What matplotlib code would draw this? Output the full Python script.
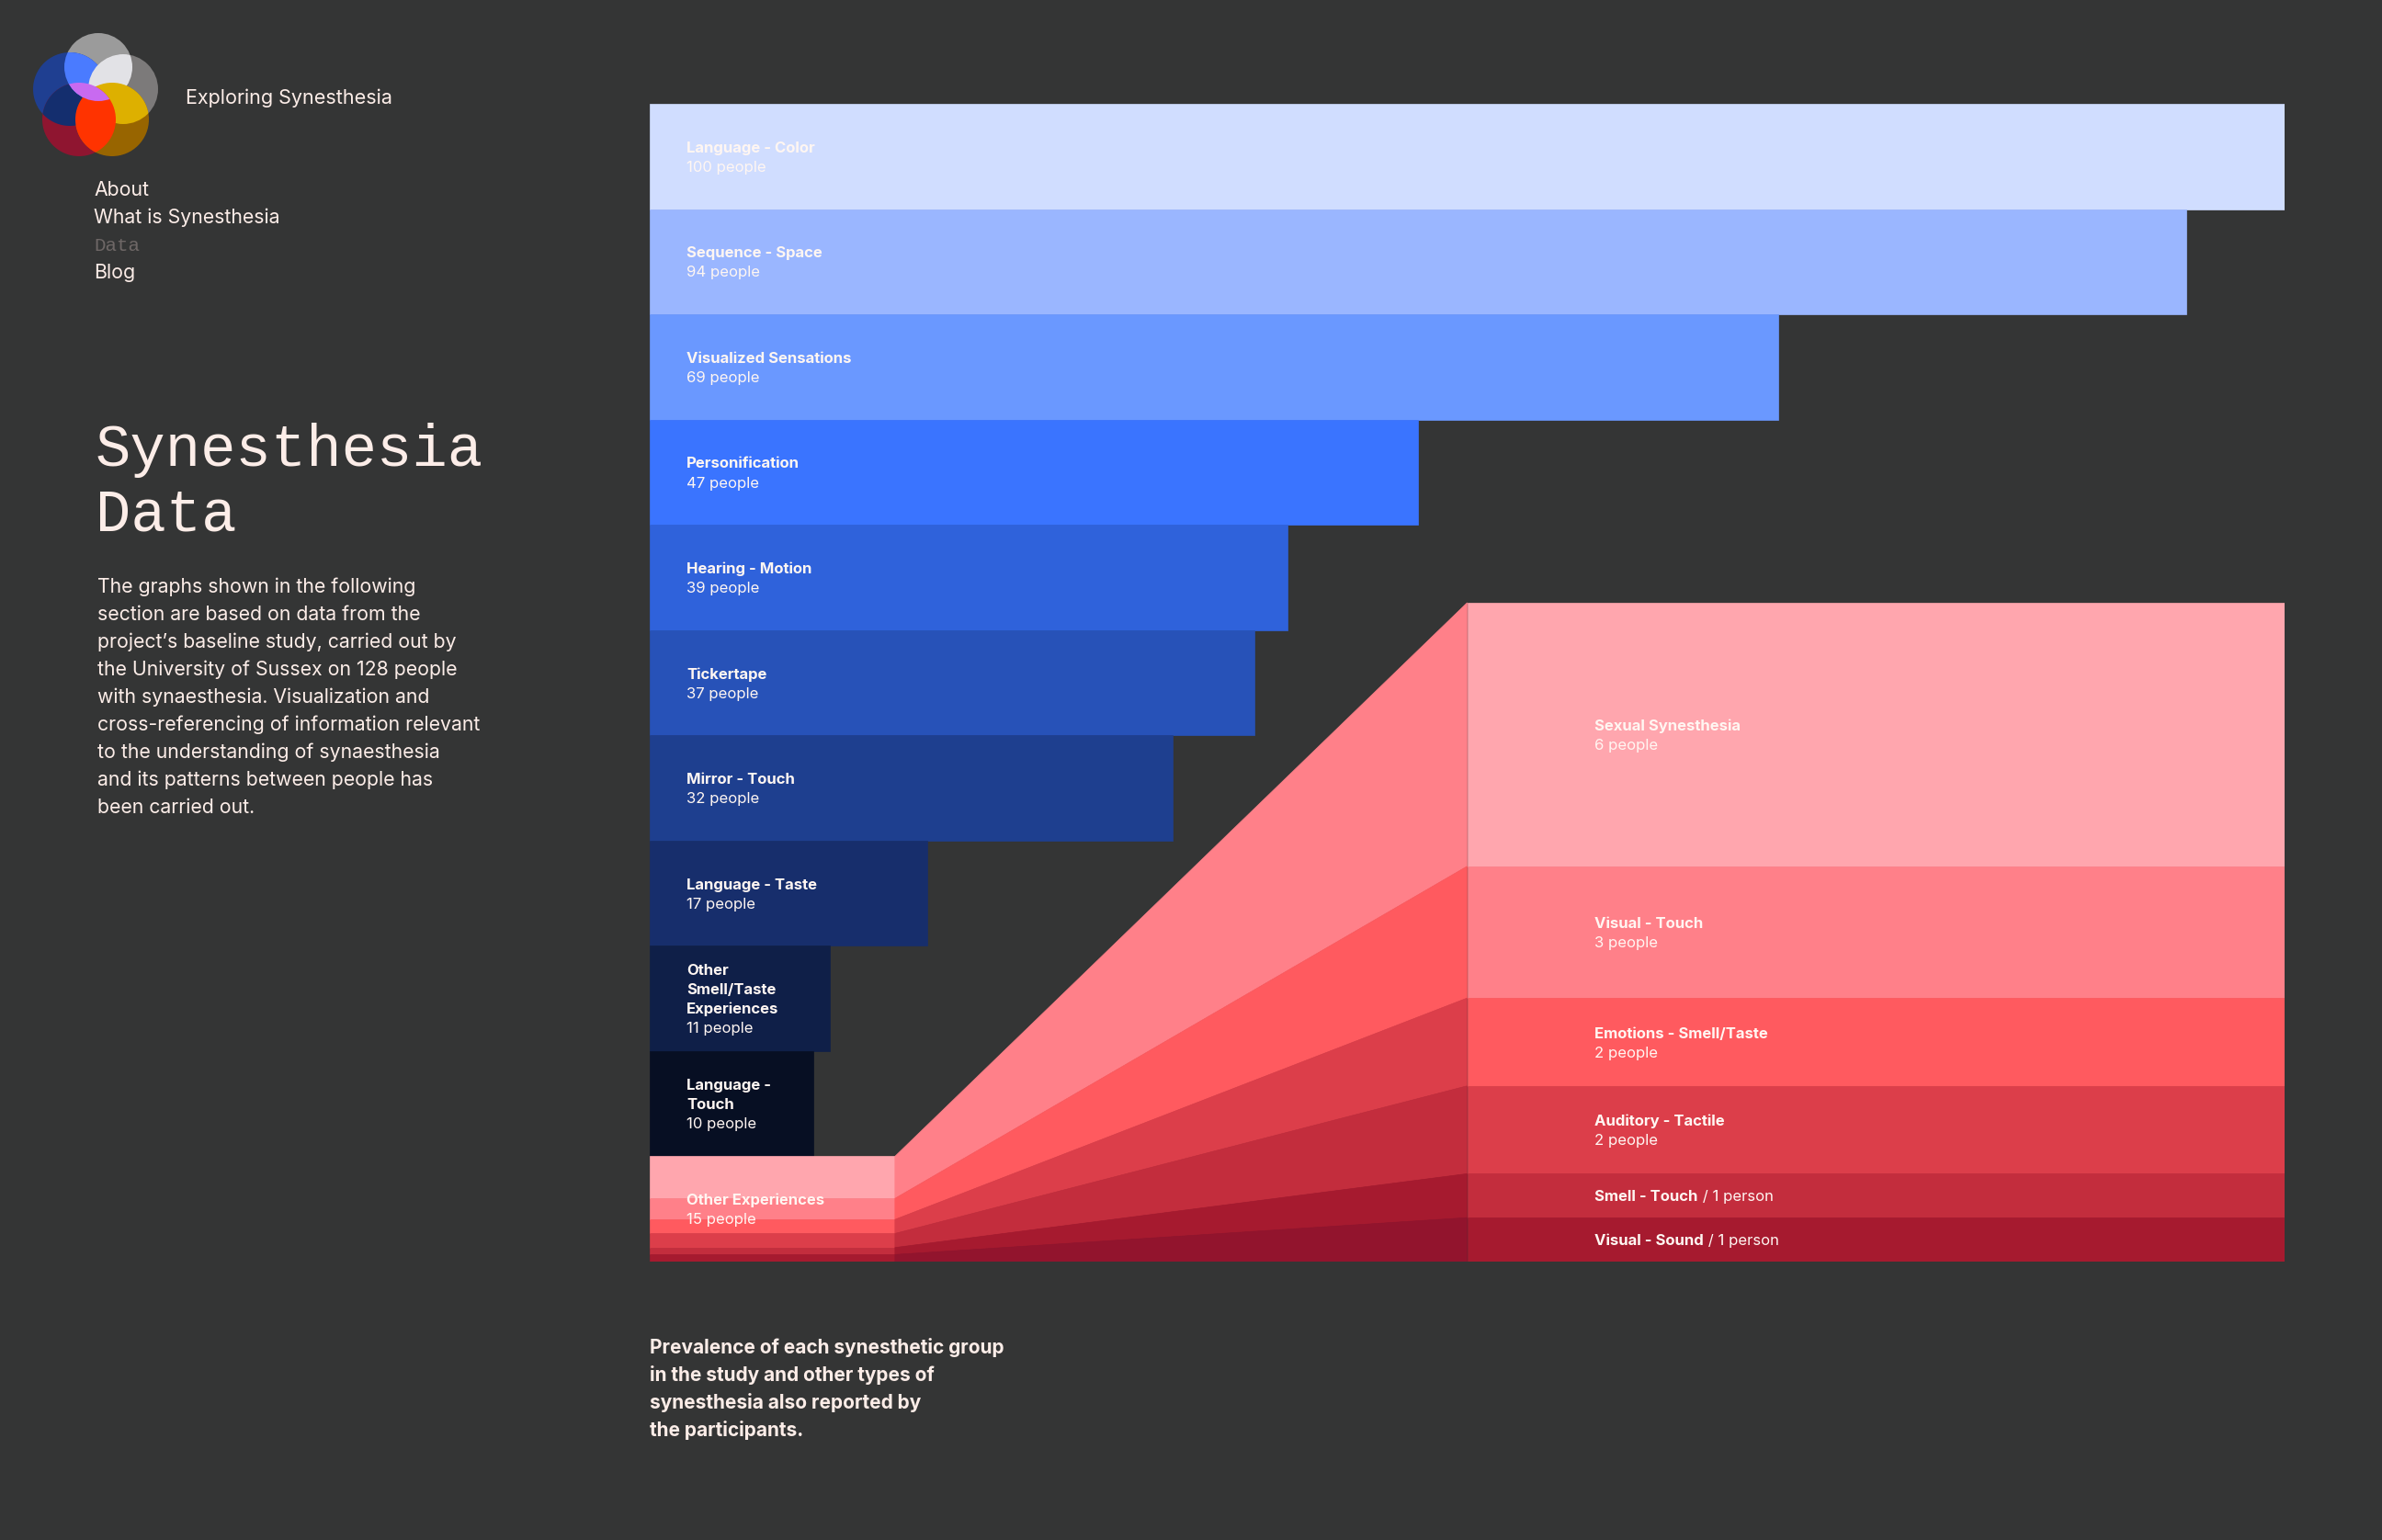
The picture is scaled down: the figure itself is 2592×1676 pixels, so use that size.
import numpy as np
import matplotlib.pyplot as plt
from matplotlib.patches import Circle

plt.rcParams['font.family'] = ['Inter', 'DejaVu Sans']

# ---- data ----
groups = ['Language - Color', 'Sequence - Space', 'Visualized Sensations',
          'Personification', 'Hearing - Motion', 'Tickertape', 'Mirror - Touch',
          'Language - Taste', 'Other\nSmell/Taste\nExperiences', 'Language -\nTouch']
group_counts = [100, 94, 69, 47, 39, 37, 32, 17, 11, 10]

other_name = 'Other Experiences'
other_types = ['Sexual Synesthesia', 'Visual - Touch', 'Emotions - Smell/Taste',
               'Auditory - Tactile', 'Smell - Touch', 'Visual - Sound']
other_counts = [6, 3, 2, 2, 1, 1]

nav_items = ['About', 'What is Synesthesia', 'Data', 'Blog']
intro_lines = ['The graphs shown in the following',
               'section are based on data from the',
               'project\u2019s baseline study, carried out by',
               'the University of Sussex on 128 people',
               'with synaesthesia. Visualization and',
               'cross-referencing of information relevant',
               'to the understanding of synaesthesia',
               'and its patterns between people has',
               'been carried out.']
caption_lines = ['Prevalence of each synesthetic group',
                 'in the study and other types of',
                 'synesthesia also reported by',
                 'the participants.']

# ---- style ----
bg = '#343535'
ink = '#FCEDE8'
label_ink = '#FFF6F2'
mono = ['Liberation Mono', 'DejaVu Sans Mono']
blue_colors = ['#D0DDFF', '#9AB6FF', '#6A98FF', '#3A74FF', '#2F62DB',
               '#2752B8', '#1E3F8F', '#172E6C', '#0F1F48', '#070F23']
red_colors = ['#FFA6AE', '#FF8089', '#FF5A5F', '#DC3E4A', '#C32D3D', '#A61A2F']
link_colors = ['#FF8089', '#FF5A5F', '#DC3E4A', '#C32D3D', '#A61A2F', '#92142D']

W, H = 2592, 1676
fig = plt.figure(figsize=(W / 100, H / 100), dpi=100, facecolor=bg)

# page layer in pixel coordinates
page = fig.add_axes([0, 0, 1, 1])
page.set_xlim(0, W)
page.set_ylim(H, 0)
page.axis('off')

# logo: overlapping circles
circles = {
    'grey_top': ((107, 73), 37, '#9B9B9B'),
    'grey_right': ((134, 97), 38, '#7C7A7A'),
    'blue': ((76, 97), 40, '#1F3F91'),
    'red': ((86, 130), 40, '#8F1530'),
    'brown': ((122, 130), 40, '#986500'),
}
for key in ['grey_top', 'grey_right', 'blue', 'red', 'brown']:
    c, r, col = circles[key]
    page.add_patch(Circle(c, r, color=col, lw=0))


def overlap(a, b, col):
    ca, ra, _ = circles[a]
    cb, rb, _ = circles[b]
    p = Circle(ca, ra, color=col, lw=0)
    page.add_patch(p)
    clip = Circle(cb, rb, transform=page.transData)
    p.set_clip_path(clip)


overlap('blue', 'red', '#142E6E')
overlap('blue', 'grey_top', '#4A7BFF')
overlap('grey_top', 'grey_right', '#E2E2E6')
overlap('brown', 'grey_right', '#DDB000')
overlap('red', 'brown', '#FF3300')
overlap('red', 'grey_top', '#C86AF0')

page.text(202, 113, 'Exploring Synesthesia', color=ink, fontsize=15.5, va='baseline')
for i, item in enumerate(nav_items):
    if item == 'Data':
        page.text(102, 213 + 30 * i, item, color='#6E6766', fontsize=15,
                  family=mono, va='baseline')
    else:
        page.text(102, 213 + 30 * i, item, color=ink, fontsize=15.3, va='baseline')

page.text(104, 507, 'Synesthesia', color=ink, fontsize=46, family=mono, va='baseline')
page.text(104, 577, 'Data', color=ink, fontsize=46, family=mono, va='baseline')
for i, line in enumerate(intro_lines):
    page.text(106, 645 + 30 * i, line, color=ink, fontsize=15.3, va='baseline')
for i, line in enumerate(caption_lines):
    page.text(707, 1473 + 30 * i, line, color=ink, fontsize=15, fontweight='bold', va='baseline')

# ---- chart ----
ax = fig.add_axes([707 / W, 1 - 1373 / H, 1779 / W, 1260 / H])
n_rows = len(groups) + 1
ax.set_xlim(0, max(group_counts))
ax.set_ylim(n_rows, 0)
ax.axis('off')

rows = np.arange(len(groups))
ax.barh(rows, group_counts, height=1, align='edge', color=blue_colors,
        edgecolor=blue_colors, linewidth=0.5)

other_total = sum(other_counts)
frac = np.cumsum([0] + other_counts) / other_total
left_y = len(groups) + frac
expand_top = 4.74
expand_x = 50
right_y = expand_top + frac * (n_rows - expand_top)

ax.barh(left_y[:-1], other_total, height=np.diff(left_y), align='edge',
        color=red_colors, edgecolor=red_colors, linewidth=0.5)
ax.barh(right_y[:-1], max(group_counts) - expand_x, left=expand_x, height=np.diff(right_y),
        align='edge', color=red_colors, edgecolor=red_colors, linewidth=0.5)
for i in range(len(other_counts)):
    ax.fill([other_total, expand_x, expand_x, other_total],
            [left_y[i], right_y[i], right_y[i + 1], left_y[i + 1]],
            color=link_colors[i], ec=link_colors[i], lw=0.5)

renderer = fig.canvas.get_renderer()
gap = 15.2
fs = 12
base = -4.4


def label(x, yc, title, count):
    if count == 1:
        t = ax.annotate(title, (x, yc), xytext=(0, base), textcoords='offset points',
                        fontsize=fs, fontweight='bold', color=label_ink, va='baseline')
        w = t.get_window_extent(renderer).width * 72 / fig.dpi
        ax.annotate(' / 1 person', (x, yc), xytext=(w, base), textcoords='offset points',
                    fontsize=fs, color=label_ink, va='baseline')
        return
    lines = title.split('\n')
    n = len(lines) + 1
    for j, line in enumerate(lines):
        off = ((n - 1) / 2 - j) * gap + base
        ax.annotate(line, (x, yc), xytext=(0, off), textcoords='offset points',
                    fontsize=fs, fontweight='bold', color=label_ink, va='baseline')
    off = ((n - 1) / 2 - (n - 1)) * gap + base
    ax.annotate(f'{count} people', (x, yc), xytext=(0, off), textcoords='offset points',
                fontsize=fs, color=label_ink, va='baseline')


for i, (g, c) in enumerate(zip(groups, group_counts)):
    label(2.25, i + 0.5, g, c)
label(2.25, len(groups) + 0.5, other_name, other_total)
for i, (g, c) in enumerate(zip(other_types, other_counts)):
    label(expand_x + 7.8, (right_y[i] + right_y[i + 1]) / 2, g, c)

fig.savefig('out.png', dpi=100, facecolor=bg)
